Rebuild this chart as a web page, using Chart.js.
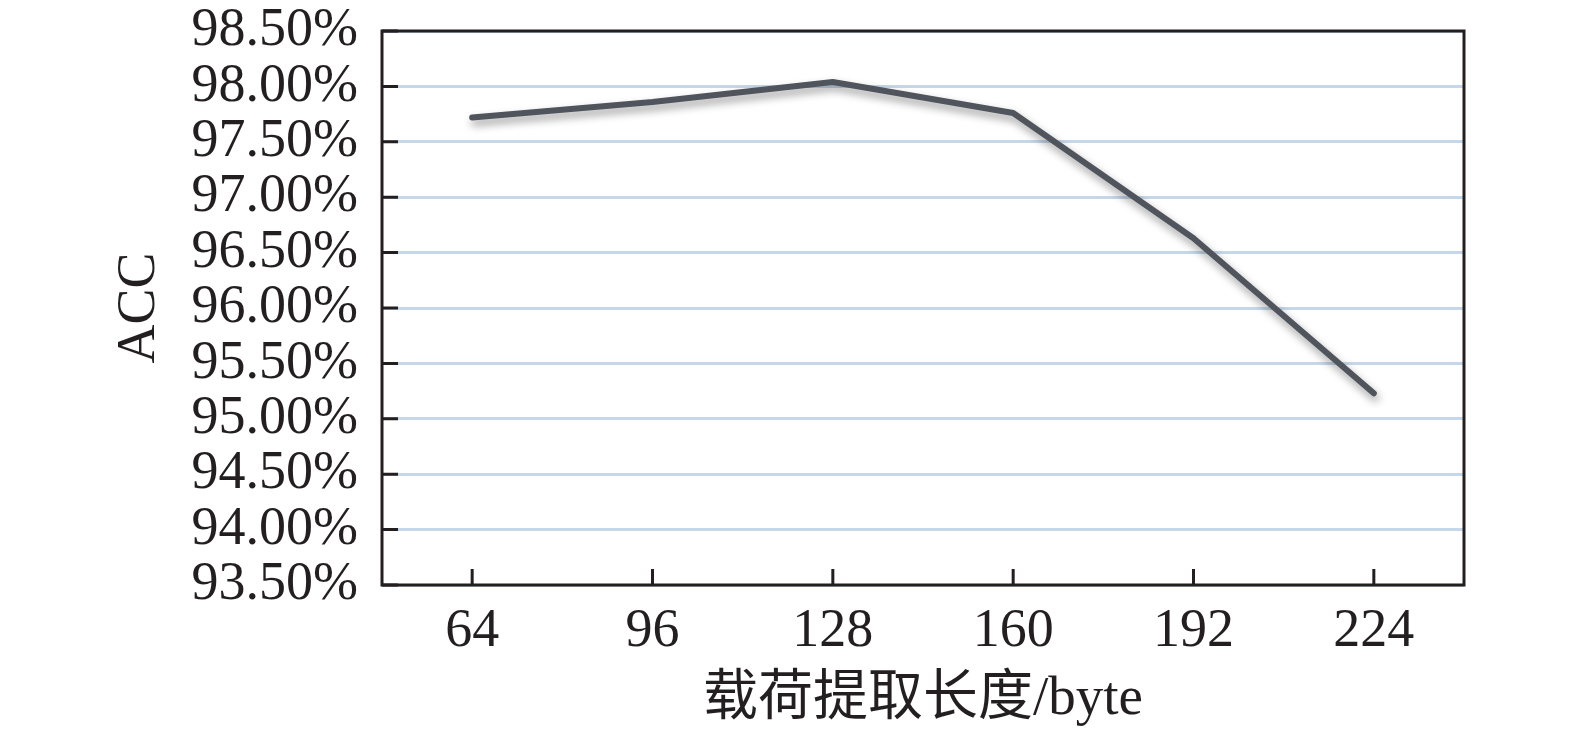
<!DOCTYPE html>
<html>
<head>
<meta charset="utf-8">
<title>ACC vs payload length</title>
<script src="https://cdn.jsdelivr.net/npm/chart.js"></script>
<style>
  html, body { margin: 0; padding: 0; background: #fff; }
  #wrap { width: 1575px; height: 737px; }
</style>
</head>
<body>
<div id="wrap"><canvas id="chart" width="1575" height="737"></canvas></div>
<script>
const payloadLengths = ["64", "96", "128", "160", "192", "224"];
const accValues = [97.72, 97.86, 98.04, 97.76, 96.63, 95.23];
const yMin = 93.5;
const yMax = 98.5;
const yStep = 0.5;

const FONT = "'Liberation Serif', 'Times New Roman', 'Noto Sans CJK SC', serif";

// frame around the plot + tick marks pointing inward
const framePlugin = {
  id: "frame",
  afterDraw(chart) {
    const { ctx, chartArea: a, scales } = chart;
    ctx.save();
    ctx.strokeStyle = "#231f20";
    ctx.lineWidth = 3;
    ctx.beginPath();
    scales.y.ticks.forEach((t, i) => {
      const y = scales.y.getPixelForTick(i);
      ctx.moveTo(a.left, y);
      ctx.lineTo(a.left + 16, y);
    });
    scales.x.ticks.forEach((t, i) => {
      const x = scales.x.getPixelForTick(i);
      ctx.moveTo(x, a.bottom);
      ctx.lineTo(x, a.bottom - 16);
    });
    ctx.stroke();
    ctx.strokeRect(a.left, a.top, a.right - a.left, a.bottom - a.top);
    ctx.restore();
  },
};

// soft drop shadow under the line
const shadowPlugin = {
  id: "lineShadow",
  beforeDatasetDraw(chart) {
    const ctx = chart.ctx;
    ctx.save();
    ctx.shadowColor = "rgba(0,0,0,0.4)";
    ctx.shadowBlur = 8;
    ctx.shadowOffsetX = 2;
    ctx.shadowOffsetY = 5;
  },
  afterDatasetDraw(chart) {
    chart.ctx.restore();
  },
};

new Chart(document.getElementById("chart"), {
  type: "line",
  data: {
    labels: payloadLengths,
    datasets: [
      {
        label: "ACC",
        data: accValues,
        borderColor: "#50545c",
        borderWidth: 6,
        borderCapStyle: "round",
        borderJoinStyle: "round",
        pointRadius: 0,
        fill: false,
        tension: 0,
      },
    ],
  },
  options: {
    responsive: false,
    animation: false,
    events: [],
    layout: { padding: { top: 31, right: 111, bottom: 0, left: 0 } },
    plugins: {
      legend: { display: false },
      tooltip: { enabled: false },
    },
    scales: {
      x: {
        offset: true,
        grid: { display: false, drawTicks: false },
        border: { display: false },
        ticks: {
          color: "#231f20",
          font: { family: FONT, size: 54 },
          padding: 14,
          maxRotation: 0,
          autoSkip: false,
        },
        title: {
          display: true,
          text: "载荷提取长度/byte",
          color: "#231f20",
          font: { family: FONT, size: 55 },
          padding: { top: 0, bottom: 4 },
        },
        afterFit(scale) {
          scale.height = 737 - 585;
          scale.paddingLeft = 0;
          scale.paddingRight = 0;
        },
      },
      y: {
        min: yMin,
        max: yMax,
        grid: { color: "#c6d7e9", lineWidth: 3, drawTicks: false },
        border: { display: false },
        ticks: {
          stepSize: yStep,
          autoSkip: false,
          color: "#231f20",
          font: { family: FONT, size: 54 },
          padding: 24,
          callback: (v) => v.toFixed(2) + "%",
        },
        title: {
          display: true,
          text: "ACC",
          color: "#231f20",
          font: { family: FONT, size: 54 },
          padding: { top: 107, bottom: 0 },
        },
        afterFit(scale) {
          scale.width = 382;
          scale.paddingTop = 0;
          scale.paddingBottom = 0;
        },
      },
    },
  },
  plugins: [shadowPlugin, framePlugin],
});
</script>
</body>
</html>
